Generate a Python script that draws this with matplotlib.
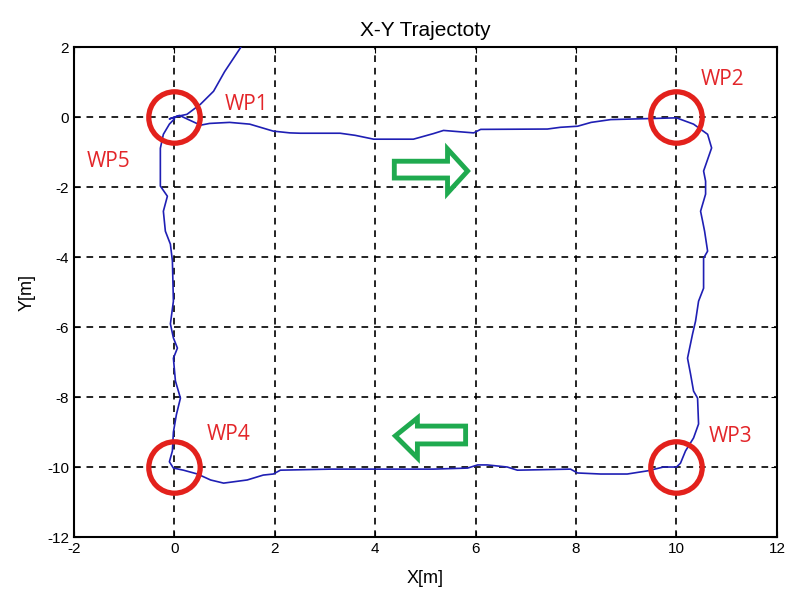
import matplotlib
matplotlib.use("Agg")
import matplotlib.pyplot as plt
from matplotlib.patches import Polygon

plt.rcParams["font.family"] = ["Liberation Sans", "DejaVu Sans"]
plt.rcParams["axes.unicode_minus"] = False

# trajectory (metres)
traj_x = [1.45, 1.31, 1.0, 0.78, 0.52, 0.25, 0.05, -0.1, 0.1, 0.25, 0.4, 0.52, 0.7, 1.1, 1.5,
          1.97, 2.3, 2.51, 3.3, 3.6, 3.97, 4.76, 5.16, 5.36, 5.7, 5.96, 6.1, 7.43, 7.69, 8.03,
          8.3, 8.69, 9.48, 10.0, 10.34, 10.62, 10.7, 10.54, 10.58, 10.58, 10.48, 10.52, 10.56,
          10.62, 10.54, 10.54, 10.44, 10.38, 10.32, 10.22, 10.28, 10.34, 10.42, 10.44, 10.34,
          10.18, 10.08, 10.0, 9.74, 9.42, 9.02, 8.49, 8.03, 7.89, 6.83, 6.63, 6.23, 6.04, 5.84,
          5.16, 4.04, 3.11, 2.11, 1.97, 1.77, 1.45, 0.98, 0.72, 0.46, 0.18, -0.02, -0.1, -0.04,
          -0.02, 0.04, 0.12, 0.02, -0.02, 0.06, -0.02, -0.08, -0.02, -0.04, -0.08, -0.18, -0.22,
          -0.14, -0.28, -0.28, -0.22, -0.1, 0.0]
traj_y = [2.3, 1.97, 1.3, 0.74, 0.37, 0.08, 0.02, -0.05, 0.05, -0.05, -0.15, -0.23, -0.18, -0.15,
          -0.2, -0.4, -0.45, -0.46, -0.46, -0.52, -0.63, -0.63, -0.47, -0.38, -0.42, -0.45, -0.35,
          -0.34, -0.29, -0.26, -0.15, -0.07, -0.04, -0.02, -0.2, -0.49, -0.88, -1.54, -1.83, -2.2,
          -2.69, -2.97, -3.26, -3.83, -4.03, -4.89, -5.26, -5.83, -6.2, -6.89, -7.34, -7.83, -8.03,
          -8.77, -9.17, -9.54, -9.89, -10.0, -10.0, -10.11, -10.2, -10.2, -10.17, -10.06, -10.09,
          -10.0, -9.94, -9.94, -10.03, -10.06, -10.06, -10.06, -10.09, -10.2, -10.23, -10.37,
          -10.46, -10.37, -10.2, -10.09, -10.03, -9.85, -9.54, -9.0, -8.5, -8.03, -7.54, -6.89,
          -6.6, -6.31, -5.91, -5.26, -4.11, -3.63, -3.26, -2.69, -2.26, -1.97, -0.89, -0.49,
          -0.2, -0.05]

# waypoints and their labels
wp_x = [0, 10, 10, 0]
wp_y = [0, 0, -10, -10]
wp_labels = ["WP1", "WP2", "WP3", "WP4", "WP5"]
label_x = [1.43, 10.92, 11.08, 1.08, -1.31]
label_y = [0.37, 1.09, -9.14, -9.06, -1.26]

# hollow direction arrows
arrow_right_x = [4.38, 5.44, 5.44, 5.84, 5.44, 5.44, 4.38]
arrow_right_y = [-1.26, -1.26, -0.91, -1.54, -2.17, -1.74, -1.74]
arrow_left_x = [5.8, 4.84, 4.84, 4.4, 4.84, 4.84, 5.8]
arrow_left_y = [-8.83, -8.83, -8.6, -9.11, -9.74, -9.34, -9.34]

fig = plt.figure(figsize=(7.88, 5.97), dpi=100)
ax = fig.add_axes([0.0939, 0.1005, 0.892, 0.8205])

ax.plot(traj_x, traj_y, color="#1f1fb4", linewidth=1.2, zorder=3)
ax.plot(wp_x, wp_y, linestyle="none", marker="o", markersize=37, markerfacecolor="none",
        markeredgecolor="#e3211c", markeredgewidth=3.8, zorder=4)

for lbl, lx, ly in zip(wp_labels, label_x, label_y):
    ax.text(lx, ly, lbl, color="#e3262a", fontsize=15, ha="center", va="center",
            family=["Open Sans", "DejaVu Sans"], zorder=5)

for xs, ys in [(arrow_right_x, arrow_right_y), (arrow_left_x, arrow_left_y)]:
    ax.add_patch(Polygon(list(zip(xs, ys)), closed=True, facecolor="white",
                         edgecolor="#1faa4f", linewidth=3.5, joinstyle="miter", zorder=5))

ax.set_xlim(-2, 12)
ax.set_ylim(-12, 2)
ax.set_xticks(range(-2, 13, 2))
ax.set_yticks(range(-12, 3, 2))
ax.grid(True, color="black", linestyle=(0, (4, 3.5)), linewidth=1.2)
ax.tick_params(direction="in", top=True, right=True, length=4, labelsize=11)
for s in ax.spines.values():
    s.set_linewidth(1.5)

ax.set_title("X-Y Trajectoty", fontsize=15, pad=8)
ax.set_xlabel("X[m]", fontsize=13, labelpad=10)
ax.set_ylabel("Y[m]", fontsize=13, labelpad=8)

fig.savefig("out.png", dpi=100)
